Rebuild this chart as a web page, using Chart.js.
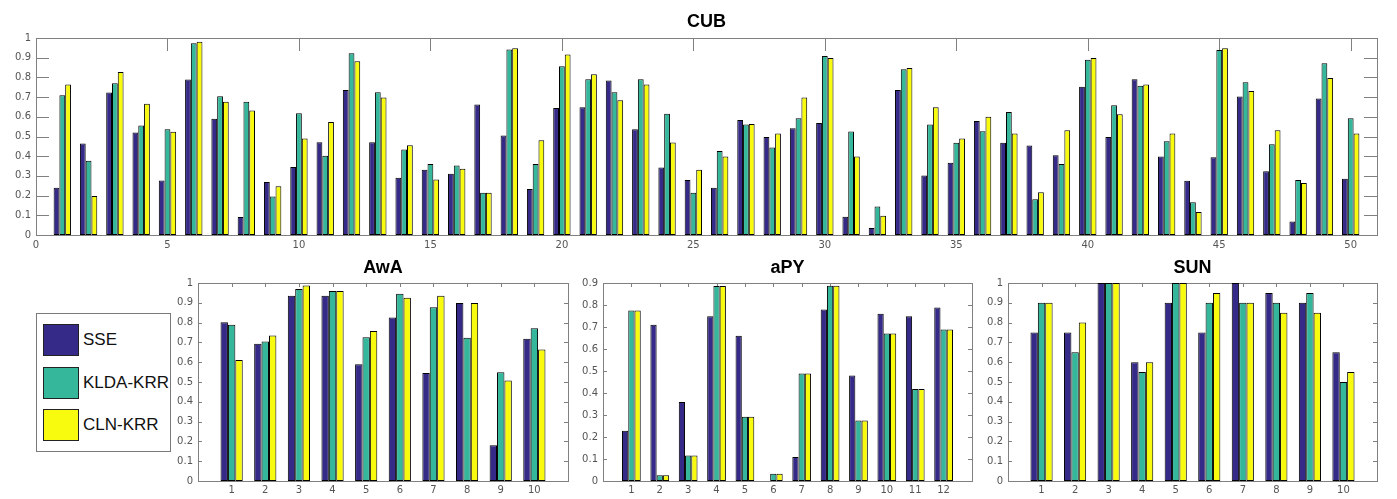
<!DOCTYPE html>
<html>
<head>
<meta charset="utf-8">
<script src="https://cdn.jsdelivr.net/npm/chart.js@4.4.0/dist/chart.umd.min.js"></script>
<style>
    body { margin: 0; background: #fff; width: 1397px; height: 499px; position: relative; overflow: hidden; font-family: 'Liberation Sans', Arial, sans-serif; }
    canvas { position: absolute; }
    #legend { position: absolute; left: 36px; top: 313px; width: 135px; height: 139px; box-sizing: border-box; border: 1px solid #7a7a7a; background: #fff; }
    .item { position: absolute; left: 6px; height: 32px; display: flex; align-items: center; }
    .swatch { width: 36px; height: 32px; box-sizing: border-box; border: 1px solid #222; margin-right: 4px; }
    .item span { font-size: 17px; color: #111; }
</style>
</head>
<body>
<canvas id="cubChart" width="1397" height="252" style="left:0;top:0"></canvas>
<canvas id="awaChart" width="408" height="248" style="left:162px;top:250px"></canvas>
<canvas id="apyChart" width="407" height="248" style="left:567px;top:250px"></canvas>
<canvas id="sunChart" width="407" height="248" style="left:972px;top:250px"></canvas>
<div id="legend"></div>
<script>
// Series names and colours (parula: first, middle, last)
const seriesNames = ['SSE', 'KLDA-KRR', 'CLN-KRR'];
const seriesColors = ['#352a87', '#35b79c', '#f9fb0e'];

// CUB, 50 classes
const cubSSE = [0.24, 0.465, 0.723, 0.52, 0.277, 0.789, 0.59, 0.091, 0.269, 0.345,
    0.471, 0.736, 0.471, 0.291, 0.331, 0.311, 0.662, 0.505, 0.233, 0.645,
    0.649, 0.784, 0.537, 0.343, 0.279, 0.24, 0.584, 0.497, 0.542, 0.568,
    0.093, 0.035, 0.736, 0.302, 0.367, 0.579, 0.468, 0.454, 0.405, 0.753,
    0.498, 0.791, 0.399, 0.275, 0.395, 0.703, 0.323, 0.068, 0.693, 0.285];
const cubKLDA = [0.709, 0.377, 0.77, 0.556, 0.537, 0.973, 0.704, 0.676, 0.196, 0.618,
    0.402, 0.922, 0.725, 0.434, 0.361, 0.353, 0.215, 0.941, 0.361, 0.856,
    0.791, 0.725, 0.791, 0.615, 0.215, 0.427, 0.561, 0.444, 0.593, 0.909,
    0.525, 0.145, 0.841, 0.561, 0.468, 0.527, 0.625, 0.182, 0.361, 0.89,
    0.659, 0.757, 0.476, 0.166, 0.939, 0.775, 0.461, 0.279, 0.872, 0.593];
const cubCLN = [0.764, 0.198, 0.828, 0.666, 0.524, 0.981, 0.677, 0.632, 0.248, 0.49,
    0.574, 0.882, 0.698, 0.456, 0.282, 0.336, 0.215, 0.948, 0.481, 0.916,
    0.816, 0.684, 0.764, 0.47, 0.331, 0.399, 0.564, 0.515, 0.698, 0.899,
    0.399, 0.098, 0.848, 0.649, 0.49, 0.6, 0.515, 0.217, 0.532, 0.899,
    0.613, 0.764, 0.515, 0.117, 0.948, 0.731, 0.532, 0.264, 0.797, 0.515];
const cubXTicks = [0, 5, 10, 15, 20, 25, 30, 35, 40, 45, 50];

// AwA, 10 classes
const awaSSE = [0.802, 0.693, 0.936, 0.936, 0.59, 0.826, 0.546, 0.899, 0.181, 0.718];
const awaKLDA = [0.789, 0.704, 0.97, 0.959, 0.726, 0.946, 0.877, 0.723, 0.549, 0.772];
const awaCLN = [0.611, 0.735, 0.988, 0.959, 0.758, 0.926, 0.936, 0.899, 0.508, 0.664];
const awaXTicks = [1, 2, 3, 4, 5, 6, 7, 8, 9, 10];

// aPY, 12 classes
const apySSE = [0.228, 0.71, 0.359, 0.749, 0.66, 0, 0.109, 0.78, 0.479, 0.76, 0.749, 0.789];
const apyKLDA = [0.775, 0.026, 0.116, 0.886, 0.292, 0.033, 0.489, 0.888, 0.275, 0.67, 0.418, 0.689];
const apyCLN = [0.775, 0.026, 0.116, 0.886, 0.292, 0.033, 0.489, 0.888, 0.275, 0.67, 0.418, 0.689];
const apyXTicks = [1, 2, 3, 4, 5, 6, 7, 8, 9, 10, 11, 12];

// SUN, 10 classes
const sunSSE = [0.75, 0.75, 1, 0.6, 0.9, 0.75, 1, 0.95, 0.9, 0.65];
const sunKLDA = [0.9, 0.65, 1, 0.55, 1, 0.9, 0.9, 0.9, 0.95, 0.5];
const sunCLN = [0.9, 0.8, 1, 0.6, 1, 0.95, 0.9, 0.85, 0.85, 0.55];
const sunXTicks = [1, 2, 3, 4, 5, 6, 7, 8, 9, 10];

const tickFont = { family: "'DejaVu Sans', sans-serif", size: 10 };
const tickColor = '#555';

// Draws the MATLAB style box with inward ticks on all four sides
const matlabBox = {
    id: 'matlabBox',
    beforeDatasetsDraw(chart, args, opts) {
        const { ctx, chartArea: a, scales } = chart;
        const len = opts.len;
        ctx.save();
        ctx.strokeStyle = '#808080';
        ctx.lineWidth = 1;
        ctx.beginPath();
        scales.x.ticks.forEach(t => {
            const px = Math.round(scales.x.getPixelForValue(t.value)) + 0.5;
            ctx.moveTo(px, a.bottom); ctx.lineTo(px, a.bottom - len);
            ctx.moveTo(px, a.top); ctx.lineTo(px, a.top + len);
        });
        scales.y.ticks.forEach(t => {
            const py = Math.round(scales.y.getPixelForValue(t.value)) + 0.5;
            ctx.moveTo(a.left, py); ctx.lineTo(a.left + len, py);
            ctx.moveTo(a.right, py); ctx.lineTo(a.right - len, py);
        });
        ctx.stroke();
        ctx.strokeRect(Math.round(a.left) + 0.5, Math.round(a.top) + 0.5,
            Math.round(a.right - a.left), Math.round(a.bottom - a.top));
        ctx.restore();
    }
};

function makeChart(id, title, values, xTicks, xMax, yMax, tickLen, padTop, padBottom, padRight, xPad) {
    const ctx = document.getElementById(id).getContext('2d');
    return new Chart(ctx, {
        type: 'bar',
        data: {
            datasets: values.map((vals, i) => ({
                label: seriesNames[i],
                data: vals.map((v, j) => ({ x: j + 1, y: v })),
                backgroundColor: seriesColors[i],
                borderColor: '#000',
                borderWidth: 1,
                borderSkipped: false,
                barPercentage: 1,
                categoryPercentage: 0.66
            }))
        },
        options: {
            responsive: false,
            animation: false,
            devicePixelRatio: 1,
            layout: { padding: { left: 0, right: padRight, top: 0, bottom: 0 } },
            plugins: {
                legend: { display: false },
                tooltip: { enabled: false },
                title: {
                    display: true,
                    text: title,
                    fullSize: false,
                    color: '#000',
                    font: { family: "'Liberation Sans', Arial, sans-serif", size: 18, weight: 'bold', lineHeight: 1 },
                    padding: { top: padTop, bottom: padBottom }
                },
                matlabBox: { len: tickLen }
            },
            scales: {
                x: {
                    type: 'linear',
                    min: 0,
                    max: xMax,
                    offset: false,
                    grid: { display: false, drawTicks: false, offset: false },
                    border: { display: false },
                    afterBuildTicks: axis => { axis.ticks = xTicks.map(v => ({ value: v })); },
                    afterFit: axis => { axis.height = 17; },
                    ticks: {
                        autoSkip: false, maxRotation: 0, padding: xPad,
                        font: tickFont, color: tickColor,
                        callback: v => String(v)
                    }
                },
                y: {
                    min: 0,
                    max: yMax,
                    grid: { display: false, drawTicks: false },
                    border: { display: false },
                    afterFit: axis => { axis.width = 36; },
                    ticks: {
                        stepSize: 0.1, padding: 5,
                        font: tickFont, color: tickColor,
                        callback: v => String(+v.toFixed(1))
                    }
                }
            }
        },
        plugins: [matlabBox]
    });
}

document.addEventListener('DOMContentLoaded', function() {
    makeChart('cubChart', 'CUB', [cubSSE, cubKLDA, cubCLN], cubXTicks, 51, 1, 13, 13, 7, 20, 4);
    makeChart('awaChart', 'AwA', [awaSSE, awaKLDA, awaCLN], awaXTicks, 11, 1, 4, 9, 6, 2, 3);
    makeChart('apyChart', 'aPY', [apySSE, apyKLDA, apyCLN], apyXTicks, 13, 0.9, 4, 9, 6, 2, 3);
    makeChart('sunChart', 'SUN', [sunSSE, sunKLDA, sunCLN], sunXTicks, 11, 1, 4, 9, 6, 2, 3);

    // Legend box, built from the same names and colours
    const legend = document.getElementById('legend');
    const tops = [10, 53, 95];
    seriesNames.forEach((name, i) => {
        const item = document.createElement('div');
        item.className = 'item';
        item.style.top = tops[i] + 'px';
        item.innerHTML = '<div class="swatch" style="background:' + seriesColors[i] + '"></div><span>' + name + '</span>';
        legend.appendChild(item);
    });
});
</script>
</body>
</html>
